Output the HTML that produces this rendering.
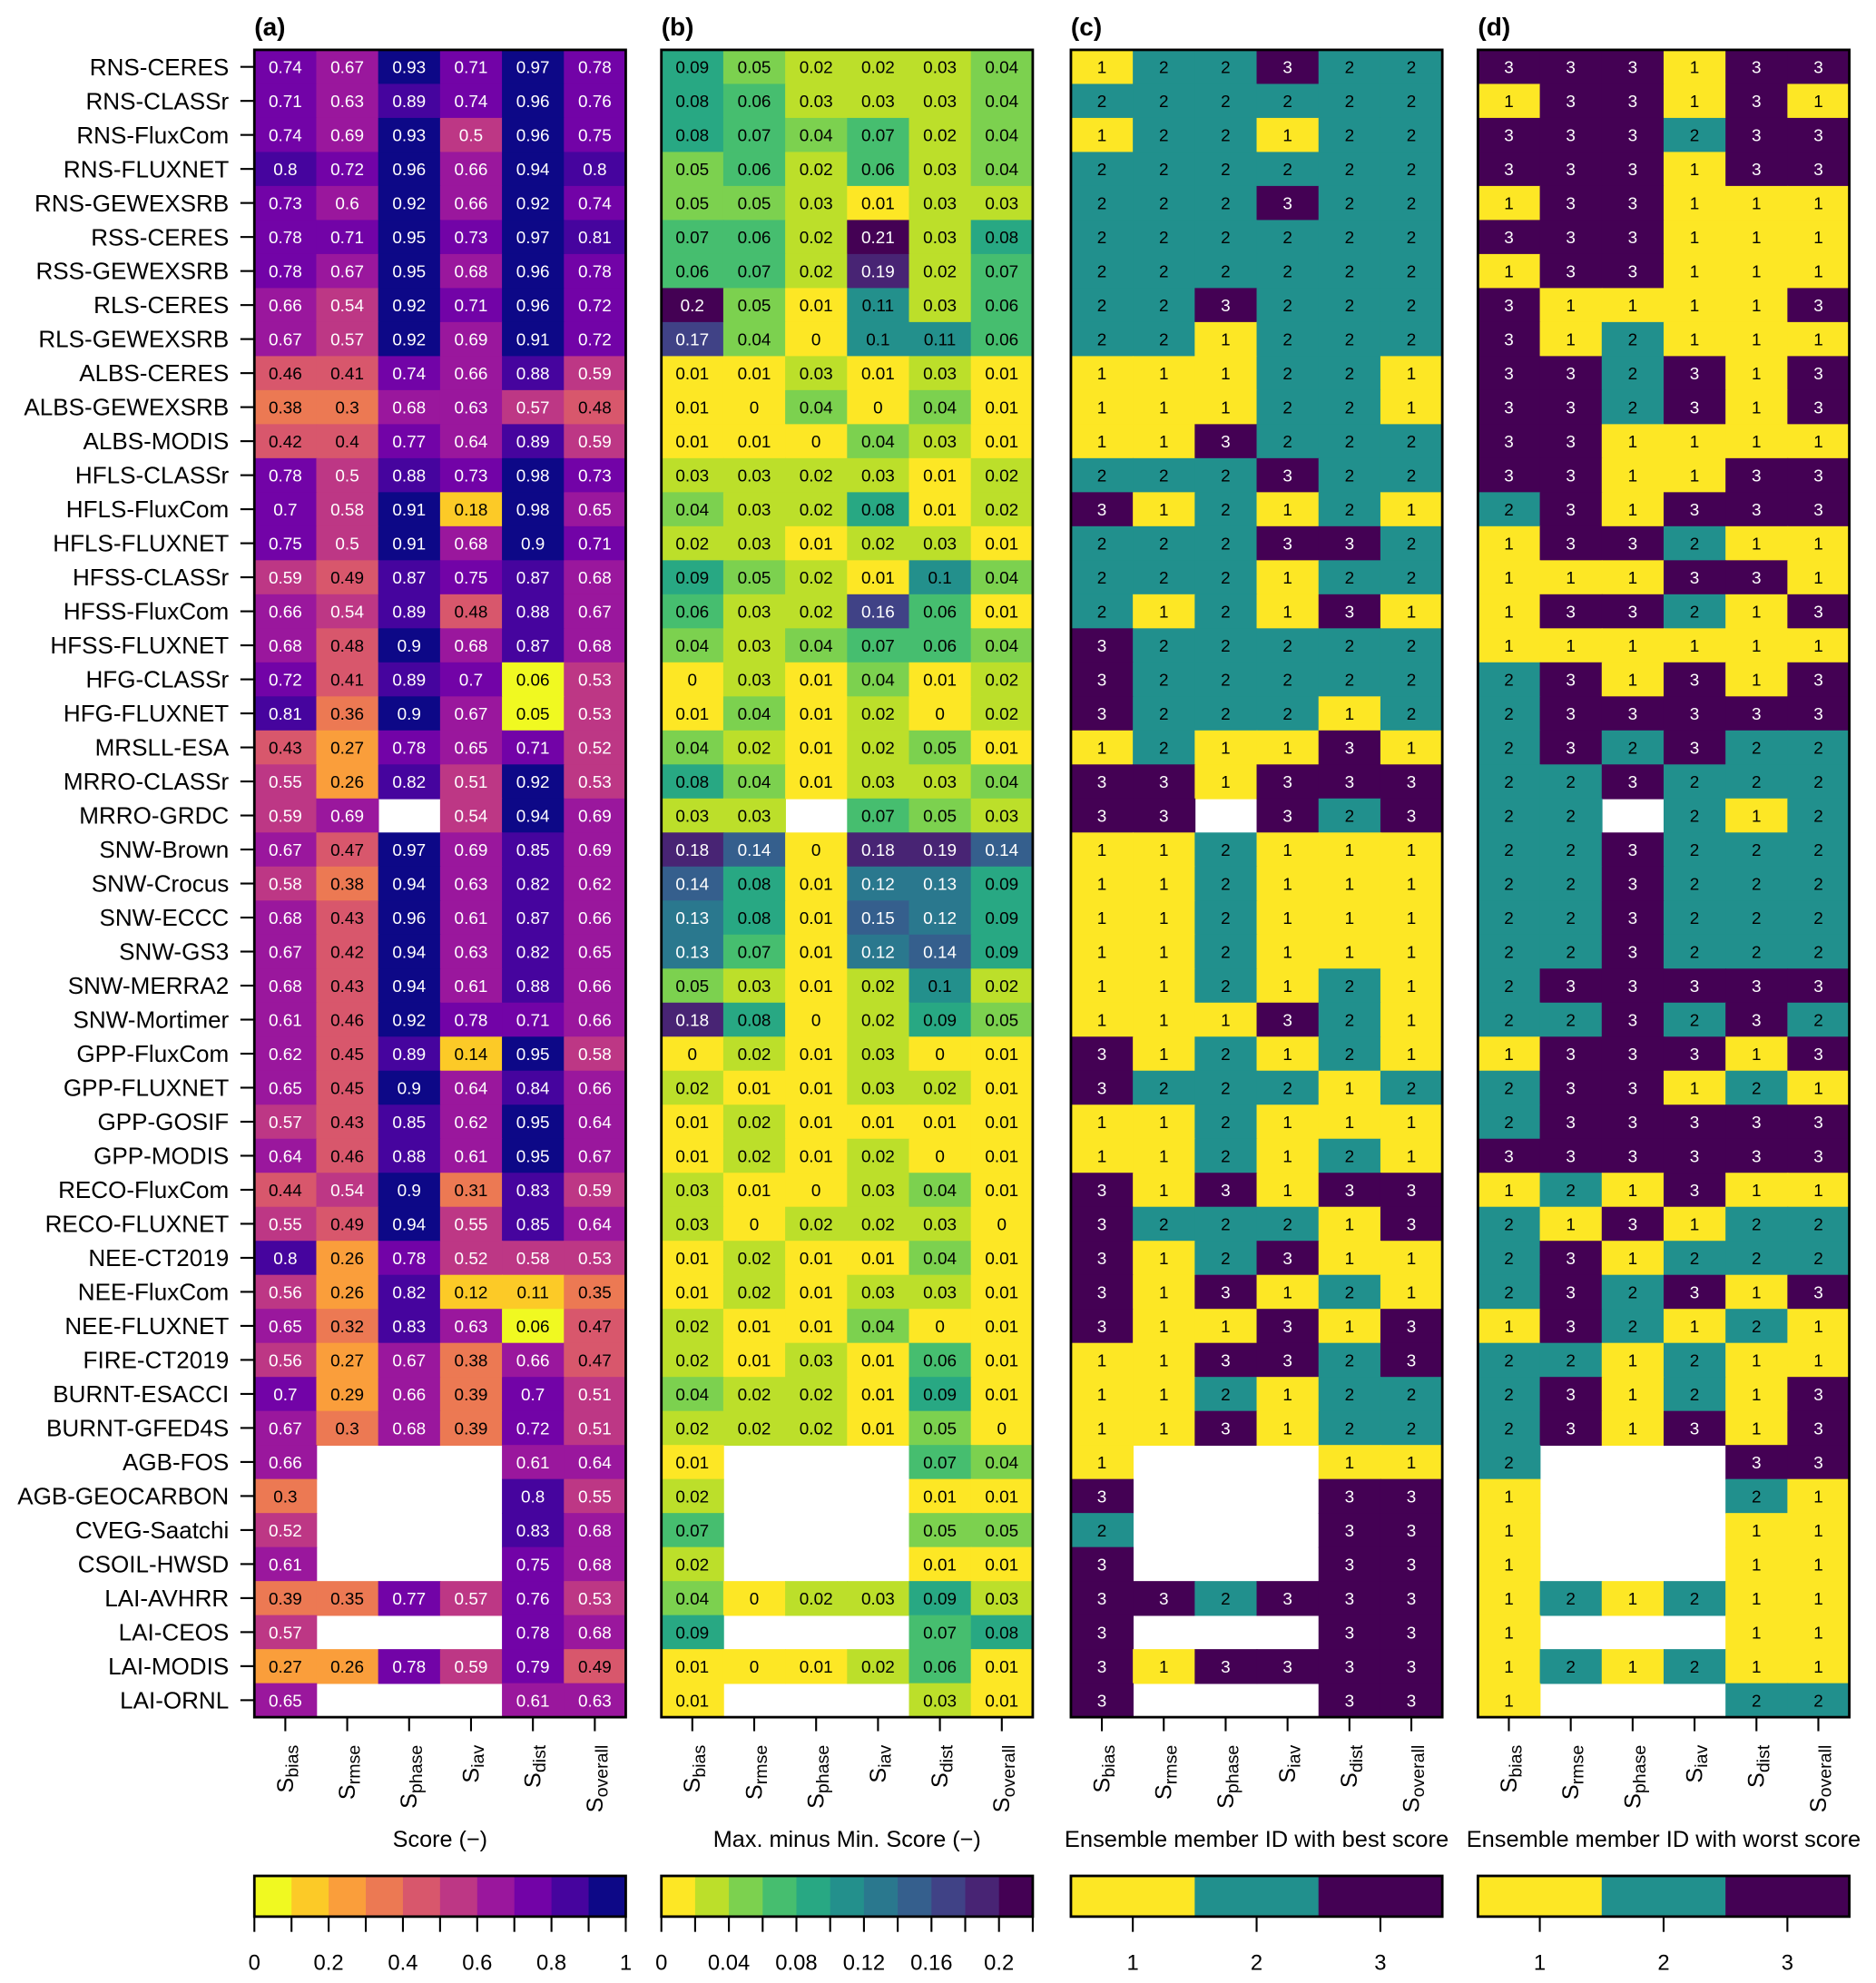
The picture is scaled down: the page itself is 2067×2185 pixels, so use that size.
<!DOCTYPE html>
<html><head><meta charset="utf-8"><style>
html,body{margin:0;padding:0;background:#fff}
svg{display:block}
text{font-family:"Liberation Sans",Arial,sans-serif}
</style></head><body>
<svg id="fig" xmlns="http://www.w3.org/2000/svg" width="2067" height="2185" viewBox="0 0 1475 1559.2" preserveAspectRatio="none"></svg>
<script>
const rowLabels=["RNS-CERES","RNS-CLASSr","RNS-FluxCom","RNS-FLUXNET","RNS-GEWEXSRB","RSS-CERES","RSS-GEWEXSRB","RLS-CERES","RLS-GEWEXSRB","ALBS-CERES","ALBS-GEWEXSRB","ALBS-MODIS","HFLS-CLASSr","HFLS-FluxCom","HFLS-FLUXNET","HFSS-CLASSr","HFSS-FluxCom","HFSS-FLUXNET","HFG-CLASSr","HFG-FLUXNET","MRSLL-ESA","MRRO-CLASSr","MRRO-GRDC","SNW-Brown","SNW-Crocus","SNW-ECCC","SNW-GS3","SNW-MERRA2","SNW-Mortimer","GPP-FluxCom","GPP-FLUXNET","GPP-GOSIF","GPP-MODIS","RECO-FluxCom","RECO-FLUXNET","NEE-CT2019","NEE-FluxCom","NEE-FLUXNET","FIRE-CT2019","BURNT-ESACCI","BURNT-GFED4S","AGB-FOS","AGB-GEOCARBON","CVEG-Saatchi","CSOIL-HWSD","LAI-AVHRR","LAI-CEOS","LAI-MODIS","LAI-ORNL"];
const colSubs=["bias","rmse","phase","iav","dist","overall"];
const n=null;
const scoreVals=[
[.74,.67,.93,.71,.97,.78],[.71,.63,.89,.74,.96,.76],[.74,.69,.93,.5,.96,.75],[.8,.72,.96,.66,.94,.8],[.73,.6,.92,.66,.92,.74],
[.78,.71,.95,.73,.97,.81],[.78,.67,.95,.68,.96,.78],[.66,.54,.92,.71,.96,.72],[.67,.57,.92,.69,.91,.72],[.46,.41,.74,.66,.88,.59],
[.38,.3,.68,.63,.57,.48],[.42,.4,.77,.64,.89,.59],[.78,.5,.88,.73,.98,.73],[.7,.58,.91,.18,.98,.65],[.75,.5,.91,.68,.9,.71],
[.59,.49,.87,.75,.87,.68],[.66,.54,.89,.48,.88,.67],[.68,.48,.9,.68,.87,.68],[.72,.41,.89,.7,.06,.53],[.81,.36,.9,.67,.05,.53],
[.43,.27,.78,.65,.71,.52],[.55,.26,.82,.51,.92,.53],[.59,.69,n,.54,.94,.69],[.67,.47,.97,.69,.85,.69],[.58,.38,.94,.63,.82,.62],
[.68,.43,.96,.61,.87,.66],[.67,.42,.94,.63,.82,.65],[.68,.43,.94,.61,.88,.66],[.61,.46,.92,.78,.71,.66],[.62,.45,.89,.14,.95,.58],
[.65,.45,.9,.64,.84,.66],[.57,.43,.85,.62,.95,.64],[.64,.46,.88,.61,.95,.67],[.44,.54,.9,.31,.83,.59],[.55,.49,.94,.55,.85,.64],
[.8,.26,.78,.52,.58,.53],[.56,.26,.82,.12,.11,.35],[.65,.32,.83,.63,.06,.47],[.56,.27,.67,.38,.66,.47],[.7,.29,.66,.39,.7,.51],
[.67,.3,.68,.39,.72,.51],[.66,n,n,n,.61,.64],[.3,n,n,n,.8,.55],[.52,n,n,n,.83,.68],[.61,n,n,n,.75,.68],
[.39,.35,.77,.57,.76,.53],[.57,n,n,n,.78,.68],[.27,.26,.78,.59,.79,.49],[.65,n,n,n,.61,.63]];
const rangeVals=[
[.09,.05,.02,.02,.03,.04],[.08,.06,.03,.03,.03,.04],[.08,.07,.04,.07,.02,.04],[.05,.06,.02,.06,.03,.04],[.05,.05,.03,.01,.03,.03],
[.07,.06,.02,.21,.03,.08],[.06,.07,.02,.19,.02,.07],[.2,.05,.01,.11,.03,.06],[.17,.04,0,.1,.11,.06],[.01,.01,.03,.01,.03,.01],
[.01,0,.04,0,.04,.01],[.01,.01,0,.04,.03,.01],[.03,.03,.02,.03,.01,.02],[.04,.03,.02,.08,.01,.02],[.02,.03,.01,.02,.03,.01],
[.09,.05,.02,.01,.1,.04],[.06,.03,.02,.16,.06,.01],[.04,.03,.04,.07,.06,.04],[0,.03,.01,.04,.01,.02],[.01,.04,.01,.02,0,.02],
[.04,.02,.01,.02,.05,.01],[.08,.04,.01,.03,.03,.04],[.03,.03,n,.07,.05,.03],[.18,.14,0,.18,.19,.14],[.14,.08,.01,.12,.13,.09],
[.13,.08,.01,.15,.12,.09],[.13,.07,.01,.12,.14,.09],[.05,.03,.01,.02,.1,.02],[.18,.08,0,.02,.09,.05],[0,.02,.01,.03,0,.01],
[.02,.01,.01,.03,.02,.01],[.01,.02,.01,.01,.01,.01],[.01,.02,.01,.02,0,.01],[.03,.01,0,.03,.04,.01],[.03,0,.02,.02,.03,0],
[.01,.02,.01,.01,.04,.01],[.01,.02,.01,.03,.03,.01],[.02,.01,.01,.04,0,.01],[.02,.01,.03,.01,.06,.01],[.04,.02,.02,.01,.09,.01],
[.02,.02,.02,.01,.05,0],[.01,n,n,n,.07,.04],[.02,n,n,n,.01,.01],[.07,n,n,n,.05,.05],[.02,n,n,n,.01,.01],
[.04,0,.02,.03,.09,.03],[.09,n,n,n,.07,.08],[.01,0,.01,.02,.06,.01],[.01,n,n,n,.03,.01]];
const bestIds=[
[1,2,2,3,2,2],[2,2,2,2,2,2],[1,2,2,1,2,2],[2,2,2,2,2,2],[2,2,2,3,2,2],[2,2,2,2,2,2],[2,2,2,2,2,2],[2,2,3,2,2,2],[2,2,1,2,2,2],[1,1,1,2,2,1],
[1,1,1,2,2,1],[1,1,3,2,2,2],[2,2,2,3,2,2],[3,1,2,1,2,1],[2,2,2,3,3,2],[2,2,2,1,2,2],[2,1,2,1,3,1],[3,2,2,2,2,2],[3,2,2,2,2,2],[3,2,2,2,1,2],
[1,2,1,1,3,1],[3,3,1,3,3,3],[3,3,n,3,2,3],[1,1,2,1,1,1],[1,1,2,1,1,1],[1,1,2,1,1,1],[1,1,2,1,1,1],[1,1,2,1,2,1],[1,1,1,3,2,1],[3,1,2,1,2,1],
[3,2,2,2,1,2],[1,1,2,1,1,1],[1,1,2,1,2,1],[3,1,3,1,3,3],[3,2,2,2,1,3],[3,1,2,3,1,1],[3,1,3,1,2,1],[3,1,1,3,1,3],[1,1,3,3,2,3],[1,1,2,1,2,2],
[1,1,3,1,2,2],[1,n,n,n,1,1],[3,n,n,n,3,3],[2,n,n,n,3,3],[3,n,n,n,3,3],[3,3,2,3,3,3],[3,n,n,n,3,3],[3,1,3,3,3,3],[3,n,n,n,3,3]];
const worstIds=[
[3,3,3,1,3,3],[1,3,3,1,3,1],[3,3,3,2,3,3],[3,3,3,1,3,3],[1,3,3,1,1,1],[3,3,3,1,1,1],[1,3,3,1,1,1],[3,1,1,1,1,3],[3,1,2,1,1,1],[3,3,2,3,1,3],
[3,3,2,3,1,3],[3,3,1,1,1,1],[3,3,1,1,3,3],[2,3,1,3,3,3],[1,3,3,2,1,1],[1,1,1,3,3,1],[1,3,3,2,1,3],[1,1,1,1,1,1],[2,3,1,3,1,3],[2,3,3,3,3,3],
[2,3,2,3,2,2],[2,2,3,2,2,2],[2,2,n,2,1,2],[2,2,3,2,2,2],[2,2,3,2,2,2],[2,2,3,2,2,2],[2,2,3,2,2,2],[2,3,3,3,3,3],[2,2,3,2,3,2],[1,3,3,3,1,3],
[2,3,3,1,2,1],[2,3,3,3,3,3],[3,3,3,3,3,3],[1,2,1,3,1,1],[2,1,3,1,2,2],[2,3,1,2,2,2],[2,3,2,3,1,3],[1,3,2,1,2,1],[2,2,1,2,1,1],[2,3,1,2,1,3],
[2,3,1,3,1,3],[2,n,n,n,3,3],[1,n,n,n,2,1],[1,n,n,n,1,1],[1,n,n,n,1,1],[1,2,1,2,1,1],[1,n,n,n,1,1],[1,2,1,2,1,1],[1,n,n,n,2,2]];
const scoreTicks=[0,0.2,0.4,0.6,0.8,1];
const rangeTicks=[0,0.04,0.08,0.12,0.16,0.2];
const idTicks=[1,2,3];

const plasmaStops=["#0d0887","#41049d","#6a00a8","#8f0da4","#b12a90","#cc4778","#e16462","#f2844b","#fca636","#fcce25","#f0f921"];
const viridisStops=["#440154","#482878","#3e4989","#31688e","#26828e","#1f9e89","#35b779","#6ece58","#b5de2b","#fde725"];
function hex(c){return [1,3,5].map(i=>parseInt(c.substr(i,2),16));}
function interp(stops,t){t=Math.max(0,Math.min(1,t));const p=t*(stops.length-1),i=Math.min(Math.floor(p),stops.length-2),f=p-i;const a=hex(stops[i]),b=hex(stops[i+1]);return a.map((v,k)=>Math.round(v+(b[k]-v)*f));}
function rgb(a){return "rgb("+a.join(",")+")";}
function lum(a){return 0.299*a[0]+0.587*a[1]+0.114*a[2];}
function scoreColor(v){const i=Math.min(9,Math.floor(v*10+1e-9));return interp(plasmaStops,1-i/9);}
function rangeColor(v){const i=Math.min(10,Math.floor(v/0.02+1e-9));return interp(viridisStops,1-i/10);}
const idCols={1:[253,231,37],2:[33,144,141],3:[68,1,84]};
function idColor(v){return idCols[v];}

const svg=document.getElementById('fig');
const NS="http://www.w3.org/2000/svg";
function el(tag,attrs,parent){const e=document.createElementNS(NS,tag);for(const k in attrs)e.setAttribute(k,attrs[k]);(parent||svg).appendChild(e);return e;}

const top0=39.2,bot0=1350.2,nR=rowLabels.length,rowH=(bot0-top0)/nR,pW=292;
const panels=[
 {x:200,key:"a",title:"(a)",data:scoreVals,color:scoreColor,fmt:v=>String(v),axis:"Score (\u2212)",cbar:"score"},
 {x:520,key:"b",title:"(b)",data:rangeVals,color:rangeColor,fmt:v=>String(v),axis:"Max. minus Min. Score (\u2212)",cbar:"range"},
 {x:842,key:"c",title:"(c)",data:bestIds,color:idColor,fmt:v=>String(v),axis:"Ensemble member ID with best score",cbar:"id"},
 {x:1162,key:"d",title:"(d)",data:worstIds,color:idColor,fmt:v=>String(v),axis:"Ensemble member ID with worst score",cbar:"id"}];
const colW=pW/6;
function yRow(i){return top0+i*rowH;}
function xCol(p,j){return p.x+j*colW;}

rowLabels.forEach((lab,i)=>{
 const t=el('text',{x:180,y:yRow(i)+rowH/2+6.5,'text-anchor':'end','font-size':18.6});
 
 
 t.textContent=lab;
 const tk=el('line',{x1:189,x2:200,y1:yRow(i)+rowH/2,y2:yRow(i)+rowH/2,stroke:'#000','stroke-width':1.5});
 
 
});

panels.forEach(p=>{
 const g=el('g',{});
 
 
 const tt=el('text',{x:p.x,y:28,'font-size':20,'font-weight':'bold'},g);
 
 
 tt.textContent=p.title;
 p.data.forEach((row,i)=>row.forEach((v,j)=>{
  if(v===null)return;
  const c=p.color(v);
  const r=el('rect',{x:xCol(p,j),y:yRow(i),width:colW+0.6,height:rowH+0.6,fill:rgb(c)},g);
  
  
  const t=el('text',{x:xCol(p,j)+colW/2,y:yRow(i)+rowH/2+5,'text-anchor':'middle','font-size':13.5,fill:lum(c)<110?'#fff':'#000'},g);
  
  
  t.textContent=p.fmt(v);
 }));
 const fr=el('rect',{x:p.x,y:top0,width:pW,height:bot0-top0,fill:'none',stroke:'#000','stroke-width':2},g);
 
 
 colSubs.forEach((s,j)=>{
  const cx=xCol(p,j)+colW/2;
  const tk=el('line',{x1:cx,x2:cx,y1:bot0,y2:bot0+11,stroke:'#000','stroke-width':1.5},g);
  
  
  const t=el('text',{x:0,y:0,'text-anchor':'end','font-size':18,transform:`translate(${cx+6},1372) rotate(-90)`},g);
  
  
  t.innerHTML='S<tspan font-size="14" dy="4">'+s+'</tspan>';
 });
 const at=el('text',{x:p.x+pW/2,y:1452,'text-anchor':'middle','font-size':18},g);
 
 
 if(p.cbar==='id'){at.setAttribute('textLength',p.key==='c'?302:310);at.setAttribute('lengthAdjust','spacingAndGlyphs');}
 at.textContent=p.axis;

 const cb=el('g',{},g);
 
 
 const cy=1475,ch=32;
 let bins=[],tickPos=[],labels=[],labPos=[];
 if(p.cbar==='score'){
  for(let i=0;i<10;i++)bins.push(scoreColor(i/10+0.05));
  for(let i=0;i<=10;i++)tickPos.push(p.x+pW*i/10);
  scoreTicks.forEach(v=>{labels.push(String(v));labPos.push(p.x+pW*v);});
 }else if(p.cbar==='range'){
  for(let i=0;i<11;i++)bins.push(rangeColor(i*0.02+0.01));
  for(let i=0;i<=11;i++)tickPos.push(p.x+pW*i/11);
  rangeTicks.forEach(v=>{labels.push(String(v));labPos.push(p.x+pW*v/0.22);});
 }else{
  [1,2,3].forEach(v=>bins.push(idColor(v)));
  idTicks.forEach(v=>{const xx=p.x+pW*(v-0.5)/3;tickPos.push(xx);labels.push(String(v));labPos.push(xx);});
 }
 const bw=pW/bins.length;
 bins.forEach((c,i)=>{const r=el('rect',{x:p.x+i*bw,y:cy,width:bw+0.5,height:ch,fill:rgb(c)},cb);
  
  });
 el('rect',{x:p.x,y:cy,width:pW,height:ch,fill:'none',stroke:'#000','stroke-width':2},cb);
 tickPos.forEach(xx=>el('line',{x1:xx,x2:xx,y1:cy+ch,y2:cy+ch+12,stroke:'#000','stroke-width':1.5},cb));
 labels.forEach((l,i)=>{const t=el('text',{x:labPos[i],y:1549,'text-anchor':'middle','font-size':17},cb);
  
  
  t.textContent=l;});
});
</script>
</body></html>
